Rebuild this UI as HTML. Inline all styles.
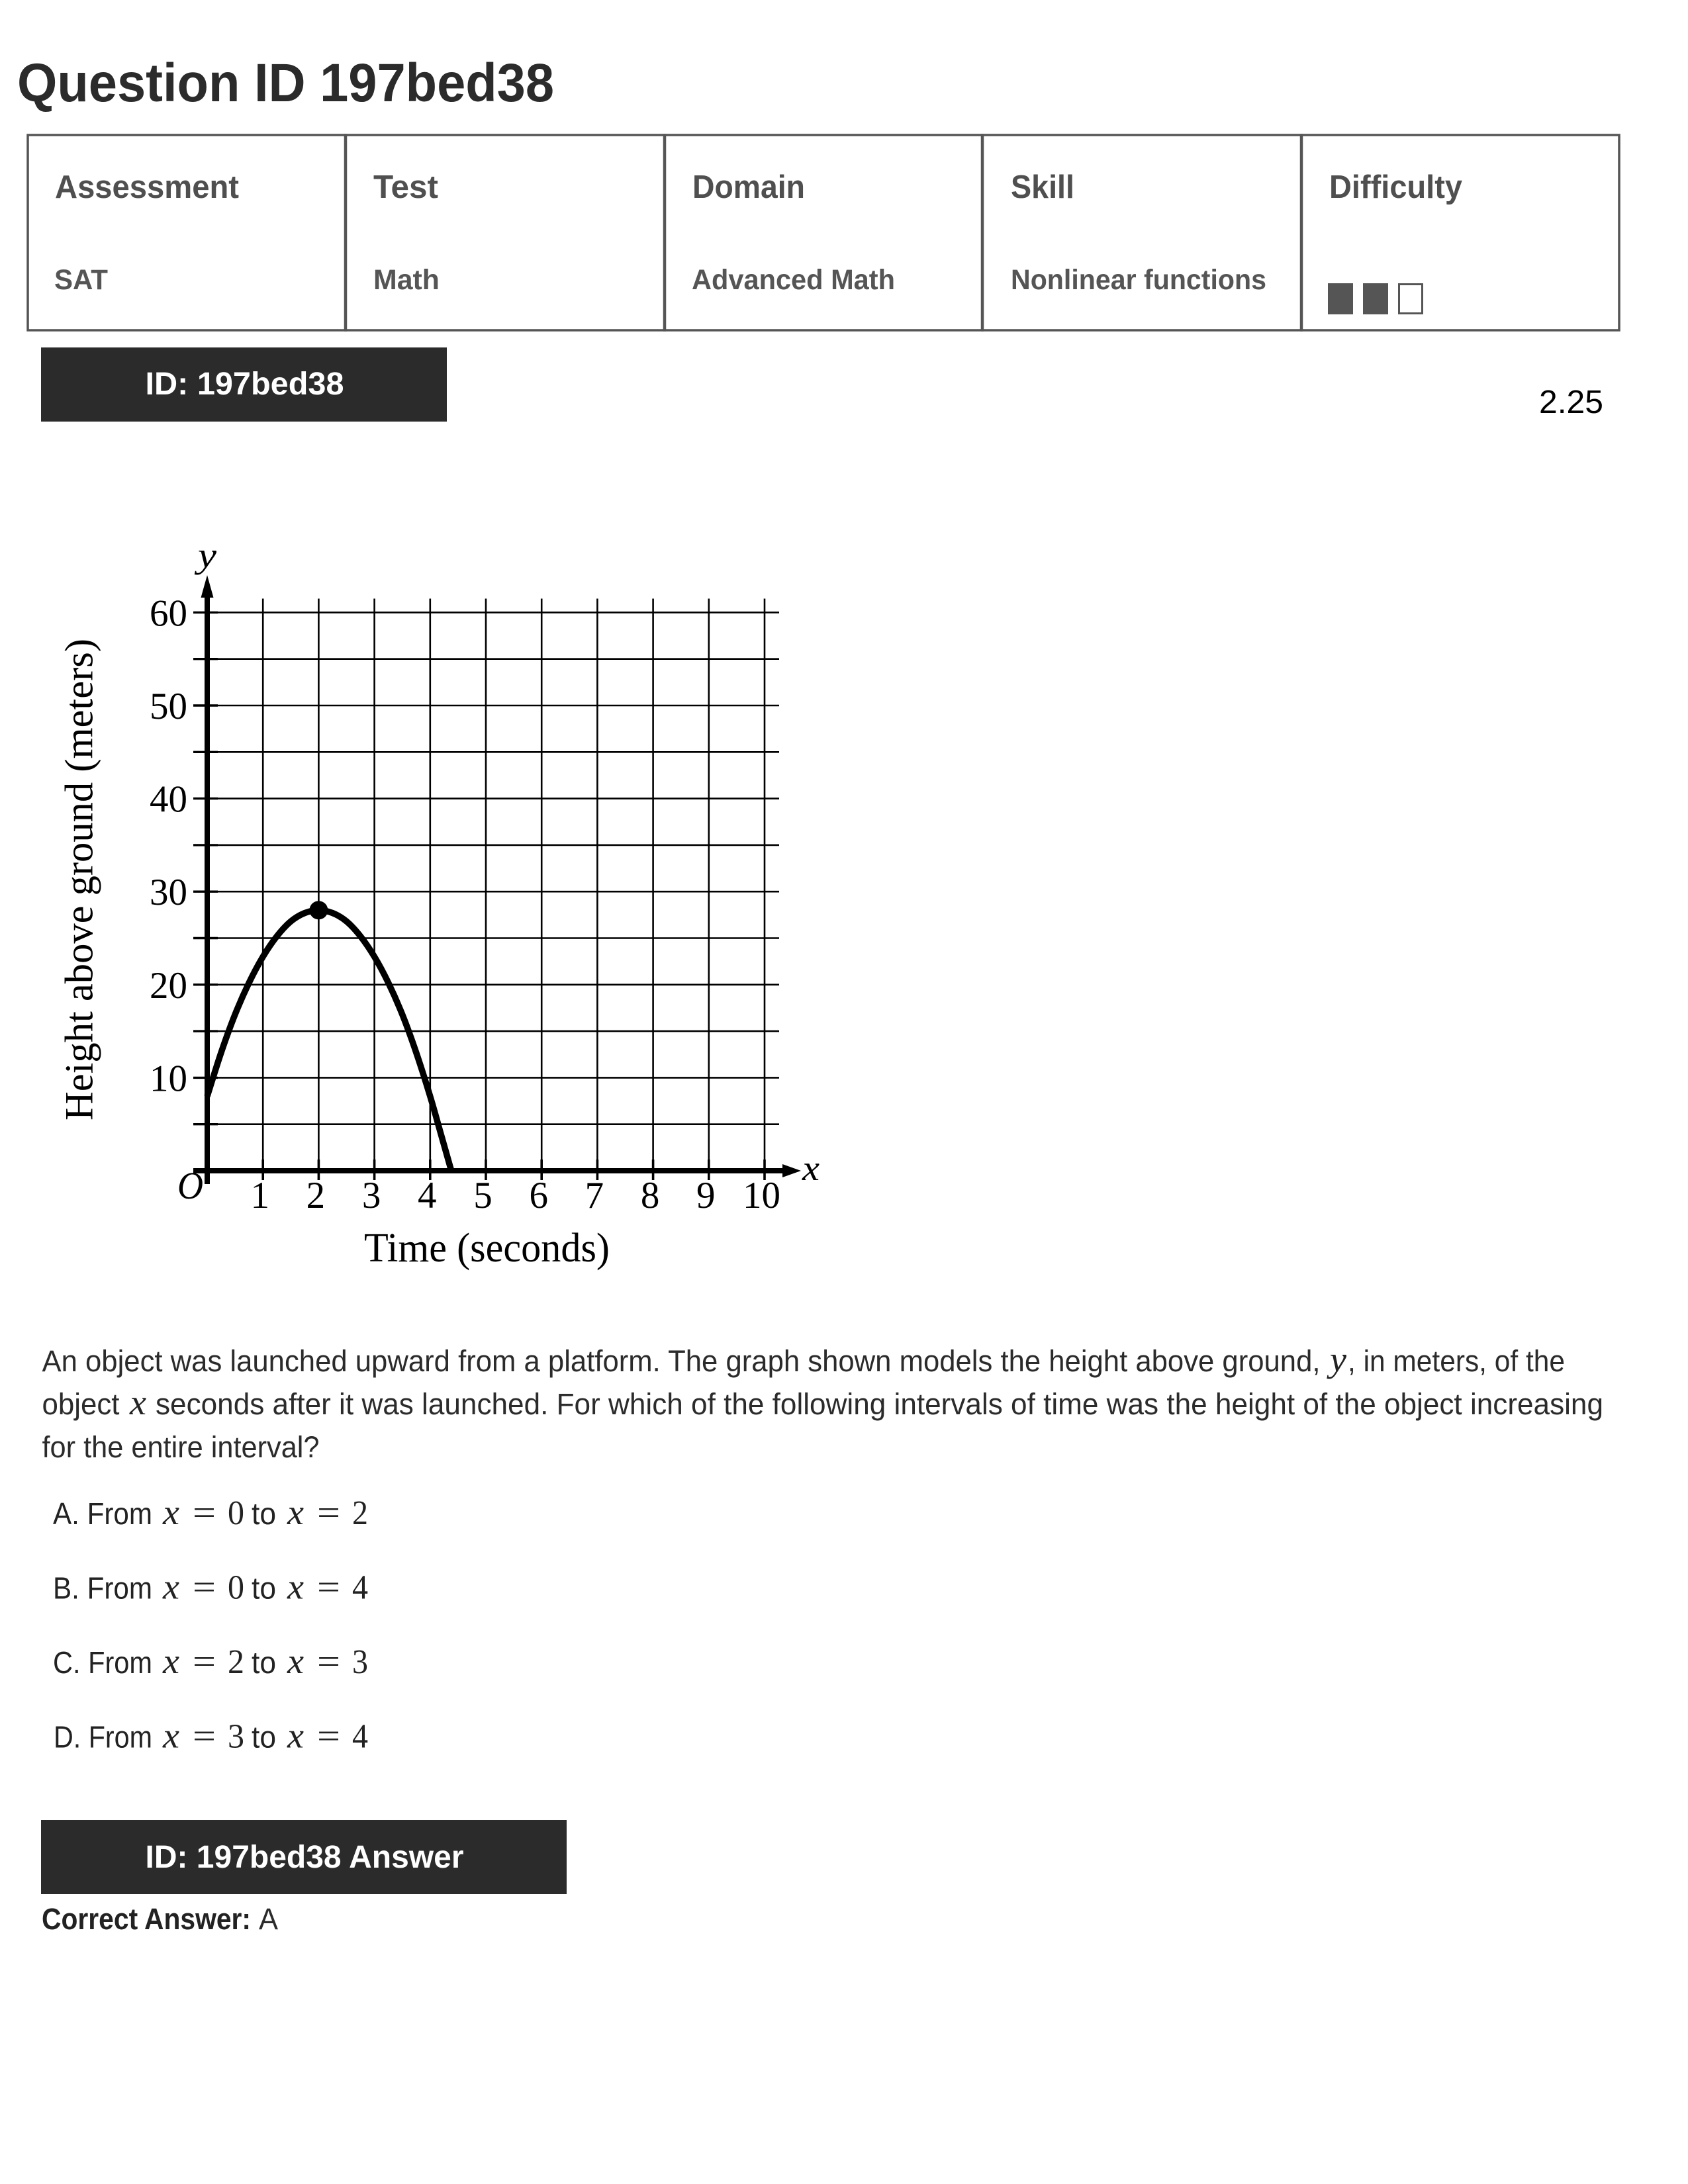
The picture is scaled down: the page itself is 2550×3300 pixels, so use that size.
<!DOCTYPE html>
<html lang="en">
<head>
<meta charset="utf-8">
<title>Question ID 197bed38</title>
<style>
html,body{margin:0;padding:0;background:#fff;}
svg{display:block;}
.sans{font-family:"Liberation Sans",Arial,sans-serif;}
.serif{font-family:"Liberation Serif","Times New Roman",serif;}
.hd{font-weight:700;font-size:49px;fill:#4f4f4f;}
.val{font-weight:700;font-size:43px;fill:#555;}
.bar-title{font-weight:700;font-size:48px;fill:#fff;}
.q{font-size:45px;fill:#2b2b2b;}
.opt{font-size:46px;fill:#222;}
.m{font-family:"Liberation Serif","Times New Roman",serif;font-size:52px;fill:#222;}
.mi{font-family:"Liberation Serif","Times New Roman",serif;font-style:italic;font-size:54px;fill:#222;}
</style>
</head>
<body>
<svg xmlns="http://www.w3.org/2000/svg" width="2550" height="3300" viewBox="0 0 2550 3300">
  <rect x="0" y="0" width="2550" height="3300" fill="#fff"/>

  <text class="sans" x="26" y="153" font-size="82" font-weight="700" fill="#2b2b2b" textLength="811" lengthAdjust="spacingAndGlyphs">Question ID 197bed38</text>

  <g fill="none" stroke="#555" stroke-width="3.5">
    <rect x="42" y="204" width="480" height="295"/>
    <rect x="522" y="204" width="482" height="295"/>
    <rect x="1004" y="204" width="480" height="295"/>
    <rect x="1484" y="204" width="482" height="295"/>
    <rect x="1966" y="204" width="480" height="295"/>
    <path d="M522 204V499M1004 204V499M1484 204V499M1966 204V499" stroke-width="4.5"/>
  </g>
  <text class="sans hd" x="83" y="299" textLength="278" lengthAdjust="spacingAndGlyphs">Assessment</text>
  <text class="sans hd" x="564" y="299" textLength="98" lengthAdjust="spacingAndGlyphs">Test</text>
  <text class="sans hd" x="1046" y="299" textLength="170" lengthAdjust="spacingAndGlyphs">Domain</text>
  <text class="sans hd" x="1527" y="299" textLength="96" lengthAdjust="spacingAndGlyphs">Skill</text>
  <text class="sans hd" x="2008" y="299" textLength="201" lengthAdjust="spacingAndGlyphs">Difficulty</text>
  <text class="sans val" x="82" y="437" textLength="81" lengthAdjust="spacingAndGlyphs">SAT</text>
  <text class="sans val" x="564" y="437" textLength="100" lengthAdjust="spacingAndGlyphs">Math</text>
  <text class="sans val" x="1045" y="437" textLength="307" lengthAdjust="spacingAndGlyphs">Advanced Math</text>
  <text class="sans val" x="1527" y="437" textLength="386" lengthAdjust="spacingAndGlyphs">Nonlinear functions</text>
  <g>
    <rect x="2006" y="428" width="38" height="47" fill="#555"/>
    <rect x="2059" y="428" width="38" height="47" fill="#555"/>
    <rect x="2113.5" y="429.5" width="35" height="44" fill="#fff" stroke="#555" stroke-width="3"/>
  </g>

  <rect x="62" y="525" width="613" height="112" fill="#2b2b2b"/>
  <text class="sans bar-title" x="219.5" y="596" textLength="300" lengthAdjust="spacingAndGlyphs">ID: 197bed38</text>
  <text class="sans" x="2325" y="624" font-size="49" fill="#000" textLength="97" lengthAdjust="spacingAndGlyphs">2.25</text>

  <g id="chart"></g>

  <g>
    <text class="sans q" x="63.5" y="2072" textLength="1931" lengthAdjust="spacingAndGlyphs">An object was launched upward from a platform. The graph shown models the height above ground,</text>
    <text class="mi" x="2009" y="2072" textLength="25" lengthAdjust="spacingAndGlyphs">y</text>
    <text class="sans q" x="2036" y="2072" textLength="328" lengthAdjust="spacingAndGlyphs">, in meters, of the</text>
    <text class="sans q" x="63.5" y="2137" textLength="117" lengthAdjust="spacingAndGlyphs">object</text>
    <text class="mi" x="196" y="2137" textLength="25" lengthAdjust="spacingAndGlyphs">x</text>
    <text class="sans q" x="235" y="2137" textLength="2187" lengthAdjust="spacingAndGlyphs">seconds after it was launched. For which of the following intervals of time was the height of the object increasing</text>
    <text class="sans q" x="63.5" y="2202" textLength="419" lengthAdjust="spacingAndGlyphs">for the entire interval?</text>
  </g>

  <g>
    <text class="sans opt" x="80" y="2303" textLength="150" lengthAdjust="spacingAndGlyphs">A. From</text>
    <text class="mi" x="246" y="2303" textLength="25" lengthAdjust="spacingAndGlyphs">x</text>
    <text class="m" x="291" y="2303" textLength="35" lengthAdjust="spacingAndGlyphs">=</text>
    <text class="m" x="344" y="2303" textLength="25" lengthAdjust="spacingAndGlyphs">0</text>
    <text class="sans opt" x="380" y="2303" textLength="37" lengthAdjust="spacingAndGlyphs">to</text>
    <text class="mi" x="434" y="2303" textLength="25" lengthAdjust="spacingAndGlyphs">x</text>
    <text class="m" x="479" y="2303" textLength="35" lengthAdjust="spacingAndGlyphs">=</text>
    <text class="m" x="532" y="2303" textLength="24" lengthAdjust="spacingAndGlyphs">2</text>
  </g>
  <g>
    <text class="sans opt" x="80" y="2415.5" textLength="150" lengthAdjust="spacingAndGlyphs">B. From</text>
    <text class="mi" x="246" y="2415.5" textLength="25" lengthAdjust="spacingAndGlyphs">x</text>
    <text class="m" x="291" y="2415.5" textLength="35" lengthAdjust="spacingAndGlyphs">=</text>
    <text class="m" x="344" y="2415.5" textLength="25" lengthAdjust="spacingAndGlyphs">0</text>
    <text class="sans opt" x="380" y="2415.5" textLength="37" lengthAdjust="spacingAndGlyphs">to</text>
    <text class="mi" x="434" y="2415.5" textLength="25" lengthAdjust="spacingAndGlyphs">x</text>
    <text class="m" x="479" y="2415.5" textLength="35" lengthAdjust="spacingAndGlyphs">=</text>
    <text class="m" x="532" y="2415.5" textLength="24" lengthAdjust="spacingAndGlyphs">4</text>
  </g>
  <g>
    <text class="sans opt" x="80" y="2528" textLength="150" lengthAdjust="spacingAndGlyphs">C. From</text>
    <text class="mi" x="246" y="2528" textLength="25" lengthAdjust="spacingAndGlyphs">x</text>
    <text class="m" x="291" y="2528" textLength="35" lengthAdjust="spacingAndGlyphs">=</text>
    <text class="m" x="344" y="2528" textLength="25" lengthAdjust="spacingAndGlyphs">2</text>
    <text class="sans opt" x="380" y="2528" textLength="37" lengthAdjust="spacingAndGlyphs">to</text>
    <text class="mi" x="434" y="2528" textLength="25" lengthAdjust="spacingAndGlyphs">x</text>
    <text class="m" x="479" y="2528" textLength="35" lengthAdjust="spacingAndGlyphs">=</text>
    <text class="m" x="532" y="2528" textLength="24" lengthAdjust="spacingAndGlyphs">3</text>
  </g>
  <g>
    <text class="sans opt" x="81" y="2640.5" textLength="149" lengthAdjust="spacingAndGlyphs">D. From</text>
    <text class="mi" x="246" y="2640.5" textLength="25" lengthAdjust="spacingAndGlyphs">x</text>
    <text class="m" x="291" y="2640.5" textLength="35" lengthAdjust="spacingAndGlyphs">=</text>
    <text class="m" x="344" y="2640.5" textLength="25" lengthAdjust="spacingAndGlyphs">3</text>
    <text class="sans opt" x="380" y="2640.5" textLength="37" lengthAdjust="spacingAndGlyphs">to</text>
    <text class="mi" x="434" y="2640.5" textLength="25" lengthAdjust="spacingAndGlyphs">x</text>
    <text class="m" x="479" y="2640.5" textLength="35" lengthAdjust="spacingAndGlyphs">=</text>
    <text class="m" x="532" y="2640.5" textLength="24" lengthAdjust="spacingAndGlyphs">4</text>
  </g>

  <rect x="62" y="2750" width="794" height="112" fill="#2b2b2b"/>
  <text class="sans bar-title" x="219.5" y="2822" textLength="481" lengthAdjust="spacingAndGlyphs">ID: 197bed38 Answer</text>
  <text class="sans" x="63" y="2915" font-size="45" font-weight="700" fill="#222" textLength="316" lengthAdjust="spacingAndGlyphs">Correct Answer:</text>
  <text class="sans" x="391" y="2915" font-size="45" fill="#2b2b2b" textLength="29" lengthAdjust="spacingAndGlyphs">A</text>
</svg>

<script>
const xTickValues = [1, 2, 3, 4, 5, 6, 7, 8, 9, 10];
const xTickLabels = ['1', '2', '3', '4', '5', '6', '7', '8', '9', '10'];
const yGridValues = [5, 10, 15, 20, 25, 30, 35, 40, 45, 50, 55, 60];
const yTickValues = [10, 20, 30, 40, 50, 60];
const yTickLabels = ['10', '20', '30', '40', '50', '60'];
const curveTimes = [0, 0.25, 0.5, 0.75, 1, 1.25, 1.5, 1.75, 2, 2.25, 2.5, 2.75, 3, 3.25, 3.5, 3.75, 4, 4.2, 4.38];
const curveHeights = [8, 12.7, 16.8, 20.2, 23, 25.2, 26.8, 27.7, 28, 27.7, 26.8, 25.2, 23, 20.2, 16.8, 12.7, 8, 3.8, 0];
const peakTime = [2];
const peakHeight = [28];

const NS = 'http://www.w3.org/2000/svg';
const chart = document.getElementById('chart');
function sx(v) { return 313 + 84.2 * v; }
function sy(v) { return 1769 - 14.06 * v; }
function mk(tag, attrs, text) {
  const el = document.createElementNS(NS, tag);
  for (const k in attrs) { el.setAttribute(k, attrs[k]); }
  if (text !== undefined) { el.textContent = text; }
  chart.appendChild(el);
  return el;
}
function smoothPath(xs, ys) {
  const px = xs.map(sx);
  const py = ys.map(sy);
  let d = 'M' + px[0] + ' ' + py[0];
  for (let i = 0; i < px.length - 1; i++) {
    const a = Math.max(i - 1, 0);
    const b = Math.min(i + 2, px.length - 1);
    const c1x = px[i] + (px[i + 1] - px[a]) / 6;
    const c1y = py[i] + (py[i + 1] - py[a]) / 6;
    const c2x = px[i + 1] - (px[b] - px[i]) / 6;
    const c2y = py[i + 1] - (py[b] - py[i]) / 6;
    d += 'C' + c1x + ' ' + c1y + ' ' + c2x + ' ' + c2y + ' ' + px[i + 1] + ' ' + py[i + 1];
  }
  return d;
}
const SERIF = '"Liberation Serif","Times New Roman",serif';

yGridValues.forEach(function (v) {
  const grid = mk('line', { x1: sx(0), x2: 1177, y1: sy(v), y2: sy(v), stroke: '#000', 'stroke-width': 2.6 });
  
  
  const tick = mk('line', { x1: 292, x2: 329, y1: sy(v), y2: sy(v), stroke: '#000', 'stroke-width': 3.4 });
  
  
});

xTickValues.forEach(function (v) {
  const grid = mk('line', { x1: sx(v), x2: sx(v), y1: 904.5, y2: 1783, stroke: '#000', 'stroke-width': 2.6 });
  
  
  const tick = mk('line', { x1: sx(v), x2: sx(v), y1: 1752, y2: 1783, stroke: '#000', 'stroke-width': 3.6 });
  
  
});

const yAxisLine = mk('line', { x1: sx(0), x2: sx(0), y1: 900, y2: 1789, stroke: '#000', 'stroke-width': 8 });


const yArrow = mk('polygon', { points: '313,869 322.5,903 303.5,903', fill: '#000' });



const xAxisLine = mk('line', { x1: 292, x2: 1185, y1: sy(0), y2: sy(0), stroke: '#000', 'stroke-width': 8 });


const xArrow = mk('polygon', { points: '1210,1769 1182,1759 1182,1779', fill: '#000' });



const curve = mk('path', { d: smoothPath(curveTimes, curveHeights), fill: 'none', stroke: '#000', 'stroke-width': 9.5, 'stroke-linejoin': 'round' });



peakTime.forEach(function (t, i) {
  const dot = mk('circle', { cx: sx(t), cy: sy(peakHeight[i]), r: 14, fill: '#000' });
  
  
});

yTickValues.forEach(function (v, i) {
  const lab = mk('text', { x: 283, y: sy(v) + 20, 'text-anchor': 'end', 'font-family': SERIF, 'font-size': 57, fill: '#000' }, yTickLabels[i]);
  
  
});

xTickValues.forEach(function (v, i) {
  const lab = mk('text', { x: sx(v) - 4.5, y: 1825, 'text-anchor': 'middle', 'font-family': SERIF, 'font-size': 57, fill: '#000' }, xTickLabels[i]);
  
  
});

const yVar = mk('text', { x: 299, y: 857, 'font-family': SERIF, 'font-style': 'italic', 'font-size': 54, fill: '#000', textLength: 28, lengthAdjust: 'spacingAndGlyphs' }, 'y');


const xVar = mk('text', { x: 1212, y: 1783, 'font-family': SERIF, 'font-style': 'italic', 'font-size': 54, fill: '#000', textLength: 26, lengthAdjust: 'spacingAndGlyphs' }, 'x');


const origin = mk('text', { x: 268, y: 1811, 'font-family': SERIF, 'font-style': 'italic', 'font-size': 58, fill: '#000', textLength: 39, lengthAdjust: 'spacingAndGlyphs' }, 'O');


const xTitle = mk('text', { x: 550, y: 1906, 'font-family': SERIF, 'font-size': 62, fill: '#000', textLength: 371, lengthAdjust: 'spacingAndGlyphs' }, 'Time (seconds)');


const yTitle = mk('text', { x: 0, y: 0, transform: 'translate(139.5 1693) rotate(-90)', 'font-family': SERIF, 'font-size': 60, fill: '#000', textLength: 728, lengthAdjust: 'spacingAndGlyphs' }, 'Height above ground (meters)');


</script>
</body>
</html>
